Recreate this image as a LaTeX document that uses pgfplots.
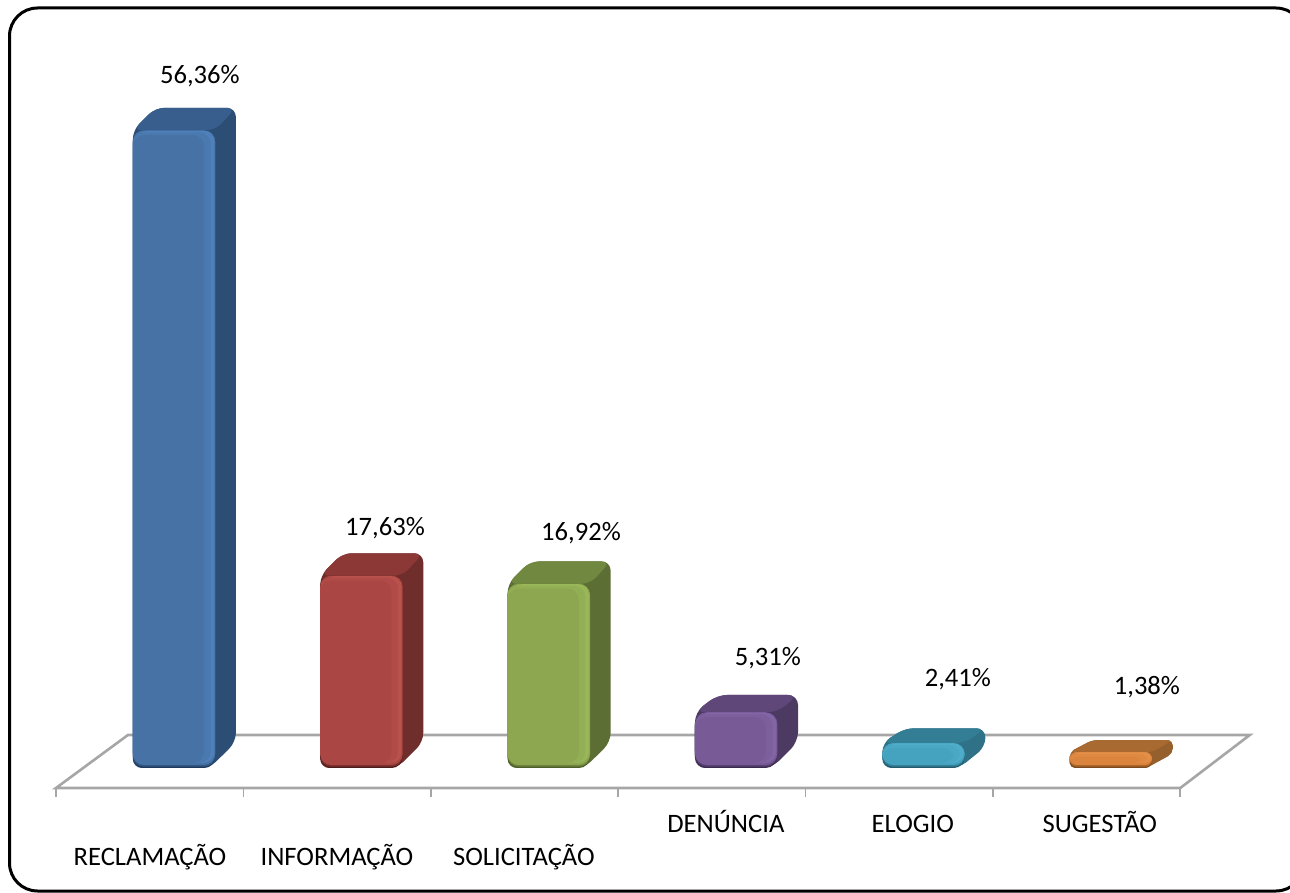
\documentclass[border=0pt]{standalone}
\usepackage{pgfplots}
\pgfplotsset{compat=1.18}
\usepackage{fontspec}
\setmainfont{Carlito}
\definecolor{floorc}{HTML}{A6A6A6}
% main, side, top, light, dark for each series
\definecolor{aM}{HTML}{4672A6}\definecolor{aS}{HTML}{2C4D74}\definecolor{aT}{HTML}{375E8D}\definecolor{aL}{HTML}{4F80BA}\definecolor{aD}{HTML}{1E3A5C}
\definecolor{bM}{HTML}{AA4643}\definecolor{bS}{HTML}{6F2D2B}\definecolor{bT}{HTML}{8C3836}\definecolor{bL}{HTML}{B9514D}\definecolor{bD}{HTML}{4E1C1A}
\definecolor{cM}{HTML}{8CA750}\definecolor{cS}{HTML}{5C6E34}\definecolor{cT}{HTML}{718841}\definecolor{cL}{HTML}{99B659}\definecolor{cD}{HTML}{4E5E2A}
\definecolor{dM}{HTML}{775A96}\definecolor{dS}{HTML}{4D3A63}\definecolor{dT}{HTML}{5F4879}\definecolor{dL}{HTML}{8265A4}\definecolor{dD}{HTML}{3A2A4E}
\definecolor{eM}{HTML}{45A3C0}\definecolor{eS}{HTML}{2F7186}\definecolor{eT}{HTML}{347E95}\definecolor{eL}{HTML}{4EADCA}\definecolor{eD}{HTML}{235A6C}
\definecolor{fM}{HTML}{DB843D}\definecolor{fS}{HTML}{96602D}\definecolor{fT}{HTML}{A96A31}\definecolor{fL}{HTML}{E48F48}\definecolor{fD}{HTML}{7C4A1C}
% #1 category index, #2 value, #3 front drop, #4 silhouette radius, #5 front radius, #6 colour prefix, #7 back height of right edge
\newcommand\cube[7]{%
 \addplot[fill=#6S,draw=none,rounded corners=#4,forget plot] coordinates {
  ({#1+.41},-1.043) ({#1+.82},-1.043) ({#1+.96},#7) ({#1+.96},#2) ({#1+.53},#2) ({#1+.41},{#2-#3})
 } -- cycle;
 \addplot[fill=#6T,draw=none,rounded corners=#4,forget plot] coordinates {
  ({#1+.41},{#2-#3}) ({#1+.53},#2) ({#1+.96},#2) ({#1+.85},{#2-#3})
 } -- cycle;
 \addplot[fill=#6D,draw=none,rounded corners=#5,forget plot] coordinates {
  ({#1+.41},-1.043) ({#1+.85},-1.043) ({#1+.85},{#2-#3}) ({#1+.41},{#2-#3})
 } -- cycle;
 \addplot[fill=#6D!50!#6M,draw=none,rounded corners=#5,forget plot] coordinates {
  ({#1+.41},-0.93) ({#1+.85},-0.93) ({#1+.85},{#2-#3}) ({#1+.41},{#2-#3})
 } -- cycle;
 \addplot[fill=#6M,draw=none,rounded corners=#5,forget plot] coordinates {
  ({#1+.41},-0.78) ({#1+.85},-0.78) ({#1+.85},{#2-#3}) ({#1+.41},{#2-#3})
 } -- cycle;
 \addplot[fill=#6L,draw=none,rounded corners=#5,forget plot] coordinates {
  ({#1+.43},-0.60) ({#1+.845},-0.60) ({#1+.845},{#2-#3-.03}) ({#1+.43},{#2-#3-.03})
 } -- cycle;
 \addplot[fill=#6L!50!#6M,draw=none,rounded corners=#5,forget plot] coordinates {
  ({#1+.41},-0.60) ({#1+.825},-0.60) ({#1+.825},{#2-#3-.18}) ({#1+.41},{#2-#3-.18})
 } -- cycle;
 \addplot[fill=#6M,draw=none,rounded corners=#5,forget plot] coordinates {
  ({#1+.41},-0.60) ({#1+.79},-0.60) ({#1+.79},{#2-#3-.42}) ({#1+.41},{#2-#3-.42})
 } -- cycle;
}
\begin{document}
\begin{tikzpicture}[x=1pt,y=1pt]
\useasboundingbox (0,0) rectangle (1290,892);
\clip (0,0) rectangle (1290,892);
\begin{axis}[at={(0,0)},anchor=south west,scale only axis,width=1290pt,height=892pt,
  hide axis,clip=false,
  xmin=-0.2988,xmax=6.5859,ymin=-11.826,ymax=65.739]
 \addplot[floorc,line width=2.6pt,forget plot] coordinates {(0.384,1.826) (6.371,1.826) (6,-2.783) (0,-2.783)} -- cycle;
 \addplot[floorc,line width=1.6pt,forget plot] coordinates {(0,-2.783) (0,-3.6)};
 \addplot[floorc,line width=1.6pt,forget plot] coordinates {(1,-2.783) (1,-3.6)};
 \addplot[floorc,line width=1.6pt,forget plot] coordinates {(2,-2.783) (2,-3.6)};
 \addplot[floorc,line width=1.6pt,forget plot] coordinates {(3,-2.783) (3,-3.6)};
 \addplot[floorc,line width=1.6pt,forget plot] coordinates {(4,-2.783) (4,-3.6)};
 \addplot[floorc,line width=1.6pt,forget plot] coordinates {(5,-2.783) (5,-3.6)};
 \addplot[floorc,line width=1.6pt,forget plot] coordinates {(6,-2.783) (6,-3.6)};
 \cube{0}{56.36}{1.95}{9pt}{11pt}{a}{1.217}
 \cube{1}{17.63}{1.95}{9pt}{11pt}{b}{1.217}
 \cube{2}{16.92}{1.95}{9pt}{11pt}{c}{1.217}
 \cube{3}{5.31}{1.5}{10pt}{12pt}{d}{1.217}
 \cube{4}{2.41}{1.28}{9pt}{11pt}{e}{0.8}
 \cube{5}{1.38}{1.03}{5pt}{7pt}{f}{0.2}
 \begin{scope}[every node/.style={anchor=base,font=\fontsize{26.6}{30}\selectfont}]
  \node at (axis cs:0.768,58.5) {56,36\%};
  \node at (axis cs:1.756,19.2) {17,63\%};
  \node at (axis cs:2.802,18.77) {16,92\%};
  \node at (axis cs:3.799,7.9) {5,31\%};
  \node at (axis cs:4.813,6.07) {2,41\%};
  \node at (axis cs:5.822,5.38) {1,38\%};
  \node at (axis cs:0.5016,-9.49) {RECLAMAÇÃO};
  \node at (axis cs:1.4995,-9.49) {INFORMAÇÃO};
  \node at (axis cs:2.497,-9.49) {SOLICITAÇÃO};
  \node at (axis cs:3.575,-6.62) {DENÚNCIA};
  \node at (axis cs:4.573,-6.62) {ELOGIO};
  \node at (axis cs:5.571,-6.62) {SUGESTÃO};
 \end{scope}
\end{axis}
\draw[black,line width=3pt,rounded corners=28pt] (9.5,884) rectangle (1304,1);
\end{tikzpicture}
\end{document}
